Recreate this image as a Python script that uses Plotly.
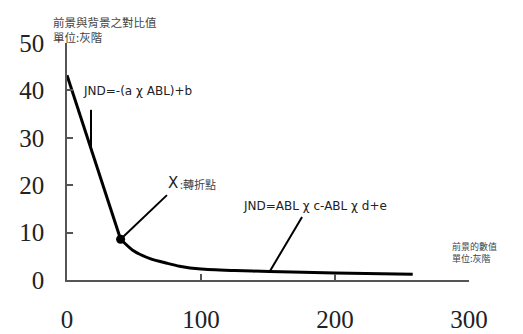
import plotly.graph_objects as go

# Data
abl_steep = [0, 40]
jnd_steep = [43.2, 8.6]
abl_decay = [40, 49, 62, 75, 84, 100, 125, 151, 200, 258]
jnd_decay = [8.6, 6.3, 4.5, 3.5, 2.9, 2.3, 2.0, 1.8, 1.5, 1.2]
turn_x = [40]
turn_y = [8.6]
x_ticks = [0, 100, 200, 300]
y_ticks = [0, 10, 20, 30, 40, 50]

fig = go.Figure()
fig.add_trace(go.Scatter(x=abl_steep, y=jnd_steep, mode="lines",
                         line=dict(color="black", width=3), showlegend=False))
fig.add_trace(go.Scatter(x=abl_decay, y=jnd_decay, mode="lines",
                         line=dict(color="black", width=3, shape="spline", smoothing=0.6),
                         showlegend=False))
fig.add_trace(go.Scatter(x=turn_x, y=turn_y, mode="markers",
                         marker=dict(color="black", size=9), showlegend=False))

axis_color = "#555555"
tick_font = dict(family="Liberation Serif", size=25, color="#222222")

fig.update_xaxes(range=[0, 300], tickvals=x_ticks, ticktext=[str(v) for v in x_ticks],
                 showgrid=False, zeroline=False, showline=True, linecolor=axis_color,
                 linewidth=1.5, ticks="inside", ticklen=6, tickcolor=axis_color,
                 tickwidth=1.5, tickfont=tick_font, ticklabelstandoff=16, automargin=False)
fig.update_yaxes(range=[0, 50], tickvals=y_ticks, ticktext=[str(v) for v in y_ticks],
                 showgrid=False, zeroline=False, showline=True, linecolor=axis_color,
                 linewidth=1.5, ticks="inside", ticklen=6, tickcolor=axis_color,
                 tickwidth=1.5, tickfont=tick_font, ticklabelstandoff=16, automargin=False)

# pointer lines
line_style = dict(color="black", width=2)
fig.add_shape(type="line", x0=17.9, y0=35.9, x1=17.9, y1=27.8, xref="x", yref="y", line=line_style)
fig.add_shape(type="line", x0=74.6, y0=17.9, x1=40, y1=8.6, xref="x", yref="y", line=line_style)
fig.add_shape(type="line", x0=175.4, y0=13.3, x1=151.5, y1=1.9, xref="x", yref="y", line=line_style)

cjk = "Noto Sans CJK TC"
gray = "#444444"
anns = [
    dict(text="前景與背景之對比值", x=51, y=22, size=11.5, color=gray, fam=cjk),
    dict(text="單位:灰階", x=51, y=37, size=11.5, color=gray, fam=cjk),
    dict(text="前景的數值", x=450, y=246, size=9, color=gray, fam=cjk),
    dict(text="單位:灰階", x=450, y=258, size=9, color=gray, fam=cjk),
    dict(text="JND=-(a χ ABL)+b", x=81, y=91, size=12, color="#222222", fam="DejaVu Sans"),
    dict(text="JND=ABL χ c-ABL χ d+e", x=241, y=206, size=12, color="#222222", fam="DejaVu Sans"),
    dict(text="X", x=166, y=183, size=15, color="#222222", fam="DejaVu Sans"),
    dict(text=":轉折點", x=178, y=184, size=11, color=gray, fam=cjk),
]
# page offset of the plot div (default body margin of 8px)
off = 8
for a in anns:
    fig.add_annotation(text=a["text"], xref="paper", yref="paper",
                       x=(a["x"] - 67) / (469 - 67), y=(280 - a["y"]) / (280 - 43),
                       xanchor="left", yanchor="middle", showarrow=False,
                       font=dict(family=a["fam"], size=a["size"], color=a["color"]))

fig.update_layout(width=523 - off, height=334 - off,
                  margin=dict(l=67 - off, r=54, t=43 - off, b=54),
                  plot_bgcolor="white", paper_bgcolor="white")

fig.write_html("out.html")
